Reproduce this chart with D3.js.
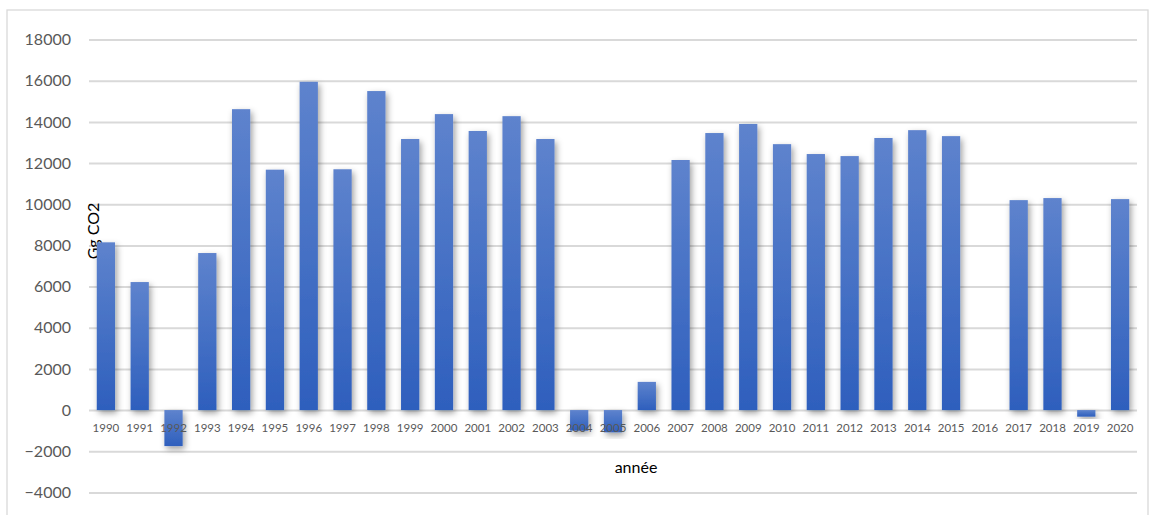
<!DOCTYPE html>
<html>
<head>
<meta charset="utf-8">
<script src="https://cdn.jsdelivr.net/npm/d3@7"></script>
<style>
  html, body { margin: 0; padding: 0; background: #fff; }
  svg { display: block; }
  text { font-family: Lato, "Open Sans", "Liberation Sans", sans-serif; }
</style>
</head>
<body>
<svg id="chart" width="1155" height="515"></svg>
<script>
// Annual values, Gg CO2
const years = ["1990","1991","1992","1993","1994","1995","1996","1997","1998","1999",
               "2000","2001","2002","2003","2004","2005","2006","2007","2008","2009",
               "2010","2011","2012","2013","2014","2015","2016","2017","2018","2019","2020"];
const values = [8150, 6220, -1750, 7630, 14620, 11680, 15950, 11700, 15500, 13170,
                14380, 13560, 14280, 13170, -1000, -1080, 1370, 12150, 13460, 13900,
                12920, 12440, 12340, 13220, 13600, 13310, 0, 10200, 10300, -320, 10250];
const yTicks = [-4000, -2000, 0, 2000, 4000, 6000, 8000, 10000, 12000, 14000, 16000, 18000];
const yTitle = "Gg CO2";
const xTitle = "année";

const svg = d3.select("#chart");
const data = years.map((yr, i) => ({ year: yr, value: values[i] }));

const plotLeft = 89, plotRight = 1137, plotTop = 39.6, plotBottom = 492.4;

const x = d3.scaleBand().domain(years).range([plotLeft, plotRight])
  .paddingInner(0.46).paddingOuter(0.23);
const y = d3.scaleLinear().domain([-4000, 18000]).range([plotBottom, plotTop]);

const defs = svg.append("defs");
const grad = defs.append("linearGradient").attr("id", "barFill")
  .attr("x1", 0).attr("y1", 0).attr("x2", 0).attr("y2", 1);
grad.append("stop").attr("offset", "0%").attr("stop-color", "#5e83cd");
grad.append("stop").attr("offset", "100%").attr("stop-color", "#2e5fbd");

const shadow = defs.append("filter").attr("id", "barShadow")
  .attr("x", "-50%").attr("y", "-20%").attr("width", "200%").attr("height", "150%");
shadow.append("feDropShadow").attr("dx", 2).attr("dy", 3).attr("stdDeviation", 3)
  .attr("flood-color", "#000").attr("flood-opacity", 0.38);

// chart frame
svg.append("rect").attr("x", 7).attr("y", 10).attr("width", 1141).attr("height", 520)
  .attr("fill", "#fff").attr("stroke", "#d9d9d9").attr("stroke-width", 1.3);

// horizontal gridlines + value labels
const yAxis = d3.axisLeft(y).tickValues(yTicks).tickSize(-(plotRight - plotLeft)).tickPadding(18)
  .tickFormat(d3.format("d"));
const gy = svg.append("g").attr("transform", `translate(${plotLeft},0)`).call(yAxis);
gy.select(".domain").remove();
gy.selectAll(".tick line").attr("stroke", "#d9d9d9").attr("stroke-width", 2);
gy.selectAll(".tick text").attr("fill", "#595959").attr("font-size", 16)
  .attr("x", 71 - plotLeft).attr("text-anchor", "end");

// vertical axis title (sits behind the bars)
svg.append("text")
  .attr("transform", `translate(99,231) rotate(-90)`)
  .attr("text-anchor", "middle").attr("font-size", 16).attr("fill", "#000")
  .text(yTitle);

// bars
svg.append("g").selectAll("rect").data(data).join("rect")
  .attr("x", d => x(d.year))
  .attr("width", x.bandwidth())
  .attr("y", d => y(Math.max(0, d.value)))
  .attr("height", d => Math.abs(y(d.value) - y(0)))
  .attr("fill", "url(#barFill)")
  .attr("filter", "url(#barShadow)");

// category labels
const xAxis = d3.axisBottom(x).tickSize(0).tickPadding(0);
const gx = svg.append("g").attr("transform", `translate(0,${y(0)})`).call(xAxis);
gx.select(".domain").remove();
gx.selectAll(".tick text").attr("fill", "#595959").attr("font-size", 11.5)
  .attr("dy", null).attr("y", 22);

// horizontal axis title
svg.append("text").attr("x", 636).attr("y", 473).attr("text-anchor", "middle")
  .attr("font-size", 16).attr("fill", "#000").text(xTitle);
</script>
</body>
</html>
